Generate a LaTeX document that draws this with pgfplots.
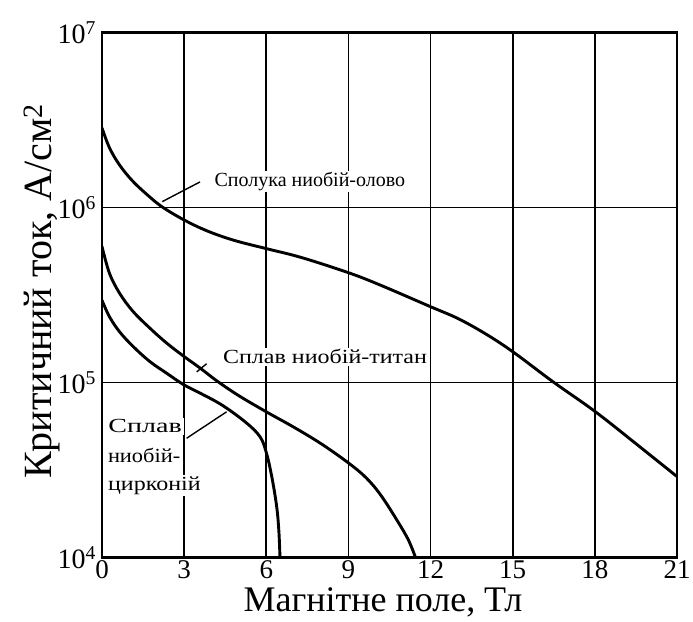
\documentclass[border=0pt]{standalone}
\usepackage{fontspec}
\setmainfont{Liberation Serif}
\usepackage{pgfplots}
\pgfplotsset{compat=1.18}
\begin{document}
\begin{tikzpicture}
\path[use as bounding box] (0,0) rectangle (693pt,621pt);
\begin{axis}[
  at={(102pt,63.5pt)}, anchor=south west,
  scale only axis, width=575pt, height=525pt,
  ymode=log, xmin=0, xmax=21, ymin=1e4, ymax=1e7,
  xtick={0,3,6,9,12,15,18,21},
  xticklabels={0,3,6,9,12,15,18,21},
  ytick={1e4,1e5,1e6,1e7},
  yticklabels={10\textsuperscript{4},10\textsuperscript{5},10\textsuperscript{6},10\textsuperscript{7}},
  yminorticks=false,
  major tick length=0pt,
  grid=major,
  major grid style={black, line width=1.7pt},
  axis line style={black, line width=2.6pt},
  xticklabel style={inner sep=3pt, font=\fontsize{27}{30}\selectfont},
  yticklabel style={inner sep=6pt, font=\fontsize{28}{32}\selectfont},
  xlabel={Магнітне поле, Тл},
  ylabel={Критичний ток, А/см\textsuperscript{2}},
  every axis x label/.style={at={(rel axis cs:0.4887,-0.1038)}, anchor=base, font=\fontsize{36}{40}\selectfont},
  every axis y label/.style={at={(rel axis cs:-0.088,0.507)}, anchor=base, rotate=90, font=\fontsize{40}{44}\selectfont},
]
% Nb3Sn
\addplot[black, line width=2.9pt, smooth, tension=0.6] coordinates {
(0,2.85e6) (0.27,2.2e6) (0.64,1.75e6) (1.13,1.41e6) (1.74,1.15e6) (2.23,1.0e6)
(2.99,8.5e5) (3.83,7.36e5) (4.81,6.5e5) (6,5.82e5) (7.26,5.19e5) (9,4.24e5)
(10.15,3.61e5) (12,2.71e5) (13,2.32e5) (14,1.9e5) (15,1.5e5)
(16.47,1.01e5) (18,6.84e4) (19.5,4.47e4) (21,2.9e4)
};
% NbTi
\addplot[black, line width=2.9pt, smooth, tension=0.6] coordinates {
(0,5.99e5) (0.27,4.22e5) (0.64,3.24e5) (1.13,2.55e5) (1.74,2.05e5) (2.36,1.68e5)
(2.99,1.41e5) (3.58,1.21e5) (4.2,1.02e5) (5.0,8.4e4) (6.0,6.8e4) (7.0,5.56e4)
(8.0,4.47e4) (9.0,3.47e4) (9.65,2.85e4) (10.2,2.25e4) (10.84,1.57e4) (11.2,1.25e4) (11.45,1.0e4)
};
% NbZr
\addplot[black, line width=2.9pt, smooth, tension=0.6] coordinates {
(0,2.95e5) (0.27,2.38e5) (0.64,1.95e5) (1.13,1.61e5) (1.74,1.32e5) (2.36,1.13e5)
(2.99,9.7e4) (3.58,8.7e4) (4.4,7.4e4) (5.26,5.9e4) (5.77,4.9e4) (6.0,3.98e4)
(6.2,2.9e4) (6.38,1.95e4) (6.46,1.41e4) (6.5,1.0e4)
};
\node[fill=white, inner sep=1.5pt, anchor=west, font=\fontsize{20}{24}\selectfont] at (axis cs:4.05,1.41e6) {Сполука ниобій-олово};
\node[fill=white, inner sep=1.5pt, anchor=west, xscale=1.2, font=\fontsize{20}{24}\selectfont] at (axis cs:4.35,1.4e5) {Сплав ниобій-титан};
\node[fill=white, inner sep=1.5pt, anchor=base west, xscale=1.4, font=\fontsize{20}{24}\selectfont] at (axis cs:0.15,5.15e4) {Сплав};
\node[fill=white, inner sep=1.5pt, anchor=base west, xscale=1.12, font=\fontsize{20}{24}\selectfont] at (axis cs:0.15,3.51e4) {ниобій-};
\node[fill=white, inner sep=1.5pt, anchor=base west, xscale=1.2, font=\fontsize{20}{24}\selectfont] at (axis cs:0.15,2.43e4) {цирконій};
\draw[line width=1.4pt] (axis cs:2.2,1.08e6) -- (axis cs:3.58,1.4e6);
\draw[line width=1.4pt] (axis cs:3.46,1.15e5) -- (axis cs:3.82,1.28e5);
\draw[line width=1.4pt] (axis cs:3.09,4.8e4) -- (axis cs:4.55,6.8e4);
\end{axis}
\end{tikzpicture}
\end{document}
